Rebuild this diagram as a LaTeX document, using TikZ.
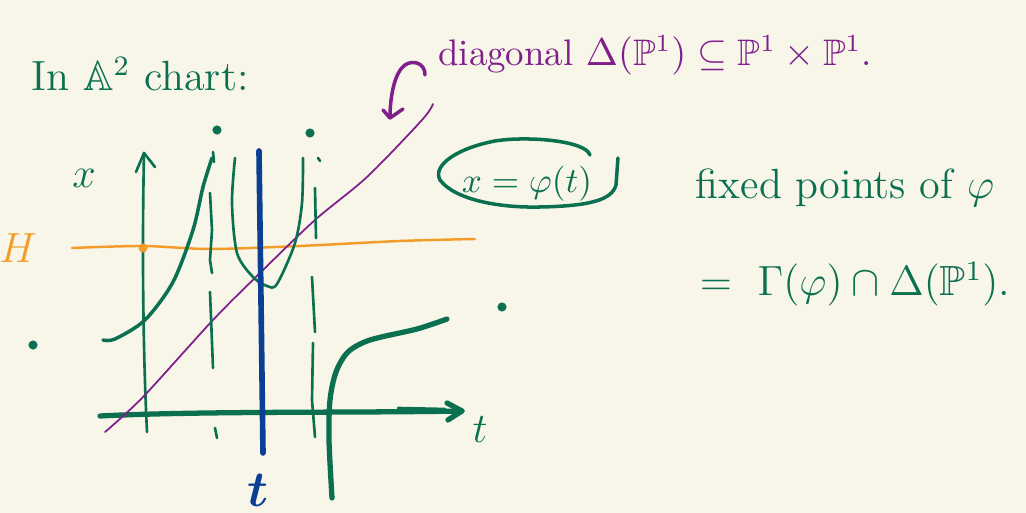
\documentclass[tikz,border=0pt]{standalone}
\usepackage{amssymb}
\usepackage{amsmath}
\definecolor{bg}{RGB}{248,245,233}
\definecolor{pen}{RGB}{10,112,80}
\definecolor{pur}{RGB}{128,31,140}
\definecolor{ora}{RGB}{243,156,42}
\definecolor{blu}{RGB}{10,63,148}
\begin{document}
\begin{tikzpicture}[x=0.01cm,y=-0.01cm,
  thinpen/.style={pen, line width=0.75pt, line cap=round, line join=round},
  thickpen/.style={pen, line width=1.5pt, line cap=round, line join=round},
  gtext/.style={text=pen, font=\large},
  ptext/.style={text=pur, font=\fontsize{10.5}{12}\selectfont},
  dotg/.style={fill=pen, draw=none, circle, inner sep=0pt, minimum size=2.6pt}]
\fill[bg] (0,0) rectangle (1026,513);
\useasboundingbox (0,0) rectangle (1026,513);

% texts
\node[gtext] (title) at (140,74) {In $\mathbb{A}^2$ chart:};
\node[ptext] (diag) at (655,55) {diagonal $\Delta(\mathbb{P}^1)\subseteq\mathbb{P}^1\times\mathbb{P}^1$.};
\node[gtext] (xlab) at (84,178) {$x$};
\node[gtext] (tlab) at (480,430) {$t$};
\node[text=ora, font=\large] (hlab) at (18,248) {$H$};
\node[text=blu, font=\Large] (tb) at (258,490) {$\boldsymbol{t}$};
\node[text=pen] (phi) at (527,184) {$x=\varphi(t)$};
\node[gtext] (fp) at (845,188) {fixed points of $\varphi$};
\node[gtext] (gam) at (855,284) {$=\ \Gamma(\varphi)\cap\Delta(\mathbb{P}^1)$.};

% dots
\node[dotg] (d1) at (217,130) {};
\node[dotg] (d2) at (310,133) {};
\node[dotg] (d3) at (33,345) {};
\node[dotg] (d4) at (502,307) {};

% ellipse loop around x=phi(t)
\draw[thinpen, line width=1pt] (590,155) .. controls (585,140) and (525,136) .. (495,141)
  .. controls (458,148) and (432,165) .. (440,180)
  .. controls (455,200) and (500,208) .. (540,207)
  .. controls (590,206) and (612,200) .. (616,185) -- (618,158);

% axes
\draw[thickpen] (100,416) .. controls (200,411) and (350,413) .. (462,411);
\draw[thickpen] (447,403) -- (462,411) -- (448,420);
\draw[thinpen] (398,408) -- (445,409);
\draw[thinpen] (147,432) .. controls (143,350) and (142,250) .. (144,153);
\draw[thinpen] (136,172) -- (144,153) -- (155,167);

% orange line
\draw[ora, line width=0.7pt, line cap=round] plot[smooth] coordinates {(72,248) (143,246) (210,249) (300,246) (400,241) (475,239)};
\fill[ora] (143,248) circle (4.5);

% purple diagonal
\draw[pur, line width=0.5pt, line cap=round] plot[smooth] coordinates {(105,432) (143,397) (213,320) (260,273) (315,220) (367,177) (422,120) (433,104)};
% purple hook arrow
\draw[pur, line width=1pt, line cap=round, line join=round] (425,75) .. controls (425,62) and (412,60) .. (405,65)
  .. controls (395,72) and (390,95) .. (390,118);
\draw[pur, line width=1pt, line cap=round, line join=round] (383,110) -- (390,118) -- (403,109);

% left curve
\draw[thinpen, line width=1pt] plot[smooth] coordinates {(103,340) (115,339) (145,320) (173,282) (193,230) (203,187) (212,158)};
% first asymptote
\draw[thinpen] (213,152) -- (214,162);
\draw[thinpen] (210,193) -- (212,230) -- (210,260) -- (212,273);
\draw[thinpen] (210,292) -- (213,368);
\draw[thinpen] (215,428) -- (217,438);
% U curve
\draw[thinpen] plot[smooth] coordinates {(235,158) (232,203) (237,253) (253,277) (267,286) (277,284) (295,243) (302,203) (303,158)};
% second asymptote
\draw[thinpen] (318,158) -- (320,161);
\draw[thinpen] (315,188) -- (316,238);
\draw[thinpen] (312,277) -- (315,332);
\draw[thinpen] (313,343) -- (312,400) -- (315,437);
% right curve
\draw[thickpen] plot[smooth] coordinates {(332,498) (329,440) (330,400) (336,372) (348,352) (370,340) (417,329) (447,319)};

% blue line
\draw[blu, line width=1.6pt, line cap=round] (259,151) -- (261,300) -- (263,453);
\end{tikzpicture}
\end{document}
